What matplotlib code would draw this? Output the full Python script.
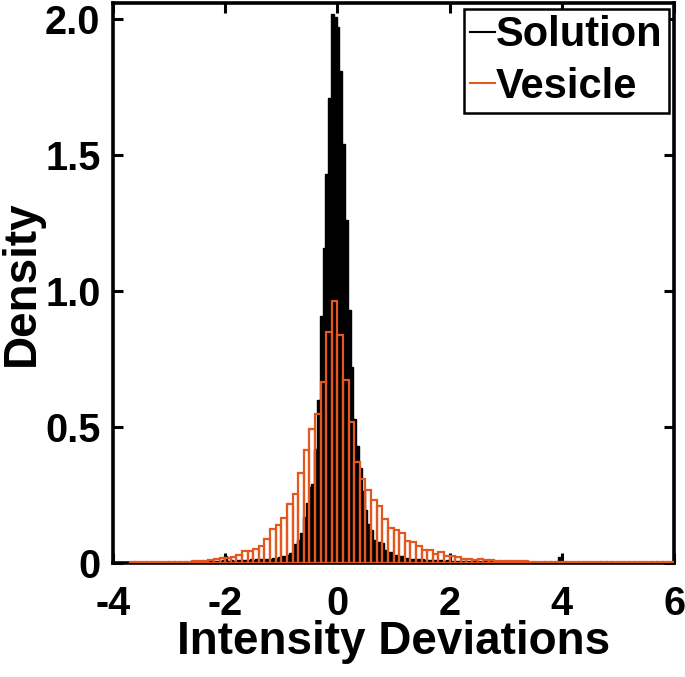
import numpy as np
import matplotlib
matplotlib.use("Agg")
import matplotlib.pyplot as plt
from matplotlib.lines import Line2D

# ---------------- data ----------------
series_names = ["Solution", "Vesicle"]

# Solution histogram: bin width 0.05, first edge -3.715
solution_first_edge = -3.715
solution_bin_width = 0.05
solution_density = [
    # -3.715 .. -2.515
    0.002, 0.002, 0.001, 0.002, 0.002, 0.002, 0.003, 0.002, 0.002, 0.003, 0.003, 0.002,
    0.003, 0.003, 0.004, 0.003, 0.004, 0.004, 0.003, 0.004, 0.005, 0.004, 0.005, 0.005,
    # -2.515 .. -1.215
    0.006, 0.006, 0.007, 0.006, 0.007, 0.008, 0.008, 0.007, 0.009, 0.010, 0.025, 0.009,
    0.010, 0.009, 0.011, 0.010, 0.012, 0.011, 0.012, 0.013, 0.012, 0.013, 0.014, 0.013,
    0.015, 0.016,
    # -1.215 .. -0.265
    0.016, 0.017, 0.018, 0.022, 0.024, 0.026, 0.028, 0.037, 0.040, 0.070, 0.085, 0.110,
    0.170, 0.220, 0.280, 0.290, 0.420, 0.600, 0.910,
    # -0.265 .. 0.185
    1.160, 1.430, 1.710, 2.020, 2.010, 1.970, 1.810, 1.540, 1.260,
    # 0.185 .. 1.035
    0.930, 0.720, 0.530, 0.430, 0.350, 0.265, 0.194, 0.145, 0.123, 0.083, 0.077, 0.077,
    0.074, 0.047, 0.040, 0.040, 0.028,
    # 1.035 .. 2.035
    0.028, 0.025, 0.025, 0.020, 0.020, 0.016, 0.016, 0.014, 0.015, 0.013, 0.012, 0.012,
    0.011, 0.012, 0.010, 0.011, 0.010, 0.009, 0.010, 0.009,
    # 2.035 .. 3.935
    0.008, 0.008, 0.007, 0.008, 0.007, 0.007, 0.006, 0.007, 0.006, 0.006, 0.005, 0.006,
    0.005, 0.005, 0.005, 0.004, 0.005, 0.004, 0.004, 0.004, 0.004, 0.003, 0.004, 0.003,
    0.003, 0.004, 0.003, 0.003, 0.003, 0.003, 0.004, 0.005, 0.003, 0.003, 0.003, 0.003,
    0.003, 0.004,
    # 3.935 .. 3.985
    0.022,
    # 3.985 .. 5.985
    0.003, 0.002, 0.002, 0.002, 0.003, 0.002, 0.002, 0.002, 0.004, 0.002, 0.002, 0.002,
    0.002, 0.002, 0.002, 0.001, 0.002, 0.002, 0.002, 0.001, 0.002, 0.002, 0.001, 0.002,
    0.001, 0.001, 0.002, 0.001, 0.001, 0.001, 0.001, 0.001, 0.001, 0.001, 0.001, 0.001,
    0.001, 0.001, 0.001, 0.001,
]

# Vesicle histogram: bin width 0.1, first edge -3.7
vesicle_first_edge = -3.7
vesicle_bin_width = 0.1
vesicle_density = [
    # -3.7 .. -2.2
    0.002, 0.002, 0.002, 0.003, 0.002, 0.003, 0.003,
    0.004, 0.004, 0.005, 0.005, 0.006,
    0.007, 0.009, 0.011,
    # -2.2 .. -1.2
    0.015, 0.017, 0.020, 0.022, 0.028, 0.044, 0.044, 0.050, 0.061, 0.087,
    # -1.2 .. 0
    0.126, 0.138, 0.167, 0.218, 0.252, 0.330, 0.415, 0.493, 0.547, 0.664, 0.850, 0.962,
    # 0 .. 2
    0.840, 0.674, 0.520, 0.372, 0.310, 0.267, 0.230, 0.208, 0.163, 0.130, 0.123, 0.110,
    0.081, 0.077, 0.061, 0.049, 0.049, 0.032, 0.039, 0.027,
    # 2 .. 4
    0.025, 0.022, 0.016, 0.014, 0.012, 0.016, 0.012, 0.010, 0.009, 0.009, 0.008, 0.007,
    0.006, 0.006, 0.005, 0.005, 0.005, 0.004, 0.004, 0.004,
    # 4 .. 6
    0.004, 0.003, 0.003, 0.003, 0.003, 0.003, 0.002, 0.002, 0.002, 0.002, 0.002, 0.002,
    0.002, 0.002, 0.002, 0.002, 0.002, 0.002, 0.002, 0.002,
]

x_ticks = [-4, -2, 0, 2, 4, 6]
x_tick_labels = ["-4", "-2", "0", "2", "4", "6"]
y_ticks = [0, 0.5, 1.0, 1.5, 2.0]
y_tick_labels = ["0", "0.5", "1.0", "1.5", "2.0"]
x_label = "Intensity Deviations"
y_label = "Density"

# ---------------- style ----------------
ORANGE = "#E4581F"
plt.rcParams["font.family"] = ["Liberation Sans", "DejaVu Sans"]
plt.rcParams["font.weight"] = "bold"

fig = plt.figure(figsize=(6.85, 6.77), dpi=100)
ax = fig.add_axes([113 / 685, (677 - 563) / 677, (674 - 113) / 685, (563 - 3) / 677])

sol_vals = np.array(solution_density)
sol_edges = solution_first_edge + solution_bin_width * np.arange(len(sol_vals) + 1)
ves_vals = np.array(vesicle_density)
ves_edges = vesicle_first_edge + vesicle_bin_width * np.arange(len(ves_vals) + 1)

ax.stairs(sol_vals, sol_edges, fill=True, color="black", linewidth=0, zorder=3)
ax.stairs(sol_vals, sol_edges, fill=False, color="black", linewidth=1.0, zorder=3)
ax.bar(ves_edges[:-1], ves_vals, width=vesicle_bin_width, align="edge",
       facecolor="none", edgecolor=ORANGE, linewidth=1.6, zorder=4)

ax.set_xlim(-4, 6)
ax.set_ylim(0, 2.06)
ax.set_xticks(x_ticks)
ax.set_xticklabels(x_tick_labels)
ax.set_yticks(y_ticks)
ax.set_yticklabels(y_tick_labels)

ax.tick_params(axis="both", direction="in", length=7, width=2.2, labelsize=28.5,
               top=True, right=True)
ax.tick_params(axis="x", pad=16)
ax.tick_params(axis="y", pad=9)
for lab in ax.get_xticklabels() + ax.get_yticklabels():
    lab.set_fontweight("bold")
for sp in ax.spines.values():
    sp.set_linewidth(2.6)
    sp.set_zorder(2)

ax.set_xlabel(x_label, fontsize=33, fontweight="bold", labelpad=-2)
ax.set_ylabel(y_label, fontsize=33, fontweight="bold", labelpad=1)

handles = [Line2D([0], [0], color="black", lw=1.5),
           Line2D([0], [0], color=ORANGE, lw=1.5)]
leg = ax.legend(handles, series_names, loc="upper right",
                bbox_to_anchor=((669 - 113) / 561, (563 - 9) / 560),
                prop={"weight": "bold", "size": 30},
                handlelength=0.6, handletextpad=0.03, borderpad=0.15,
                labelspacing=0.28, borderaxespad=0.0, fancybox=False,
                framealpha=1.0, edgecolor="black")
leg.get_frame().set_linewidth(1.8)
leg.set_zorder(6)

fig.savefig("out.png", dpi=100)
